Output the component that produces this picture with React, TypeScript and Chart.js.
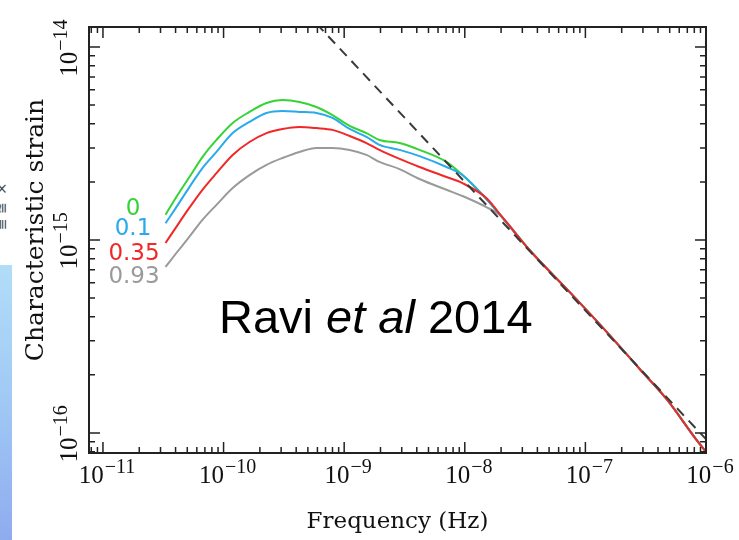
import React, { useEffect, useRef } from "react";
import { Chart, registerables } from "chart.js";

Chart.register(...registerables);

// Frequency grid (Hz)
const frequencyHz = [
  3.3e-11, 4.06e-11, 5.21e-11, 6.68e-11, 8.73e-11, 1.19e-10, 1.64e-10, 2.27e-10,
  3.08e-10, 4.26e-10, 5.89e-10, 8.0e-10, 1.11e-9, 1.53e-9, 1.96e-9, 2.88e-9,
  4.21e-9, 7.05e-9, 9.57e-9, 1.51e-8, 1.94e-8, 3.44e-8, 7.38e-8, 1.5e-7,
  2.81e-7, 4.7e-7, 8.34e-7, 1.0e-6,
];

// Characteristic strain for each eccentricity
const strainE0 = [
  1.35e-15, 1.67e-15, 2.12e-15, 2.69e-15, 3.3e-15, 4.04e-15, 4.61e-15, 5.13e-15,
  5.31e-15, 5.19e-15, 4.89e-15, 4.44e-15, 3.9e-15, 3.58e-15, 3.3e-15, 3.18e-15,
  2.93e-15, 2.54e-15, 2.17e-15, 1.63e-15, 1.36e-15, 8.87e-16, 5.38e-16, 3.34e-16,
  2.15e-16, 1.5e-16, 9.2e-17, 7.97e-17,
];
const strainE01 = [
  1.22e-15, 1.48e-15, 1.88e-15, 2.36e-15, 2.86e-15, 3.58e-15, 4.09e-15, 4.55e-15,
  4.66e-15, 4.61e-15, 4.55e-15, 4.29e-15, 3.76e-15, 3.42e-15, 3.11e-15, 2.93e-15,
  2.72e-15, 2.39e-15, 2.17e-15, 1.63e-15, 1.36e-15, 8.87e-16, 5.38e-16, 3.34e-16,
  2.15e-16, 1.5e-16, 9.2e-17, 7.97e-17,
];
const strainE035 = [
  9.65e-16, 1.17e-15, 1.47e-15, 1.82e-15, 2.22e-15, 2.76e-15, 3.22e-15, 3.58e-15,
  3.76e-15, 3.85e-15, 3.8e-15, 3.72e-15, 3.46e-15, 3.18e-15, 2.93e-15, 2.63e-15,
  2.39e-15, 2.12e-15, 1.97e-15, 1.65e-15, 1.37e-15, 8.87e-16, 5.38e-16, 3.34e-16,
  2.15e-16, 1.5e-16, 9.2e-17, 7.97e-17,
];
const strainE093 = [
  7.25e-16, 8.56e-16, 1.04e-15, 1.27e-15, 1.52e-15, 1.86e-15, 2.17e-15, 2.45e-15,
  2.66e-15, 2.86e-15, 3.0e-15, 3.0e-15, 2.93e-15, 2.76e-15, 2.54e-15, 2.33e-15,
  2.07e-15, 1.82e-15, 1.69e-15, 1.48e-15, 1.35e-15, 8.87e-16, 5.38e-16, 3.34e-16,
  2.15e-16, 1.5e-16, 9.2e-17, 7.97e-17,
];

// f^(-2/3) power-law reference (dashed)
const dashFreq = [1e-10, 1e-6];
const dashStrain = [4.31e-14, 9.28e-17];

const eccLabels = ["0", "0.1", "0.35", "0.93"];
const eccColors = ["#35d335", "#29aaea", "#f02828", "#9a9a9a"];

const xMin = 7.66e-12;
const xMax = 1e-6;
const yMin = 7.87e-17;
const yMax = 1.27e-14;

const xDecades = [-12, -11, -10, -9, -8, -7, -6];
const yDecades = [-17, -16, -15, -14];

function buildLogTicks(decades: number[], min: number, max: number) {
  const out: { value: number; major: boolean }[] = [];
  for (const d of decades) {
    for (let m = 1; m <= 9; m++) {
      const v = Number((m * Math.pow(10, d)).toPrecision(6));
      if (v >= min * 0.9999 && v <= max * 1.0001) out.push({ value: v, major: m === 1 });
    }
  }
  return out;
}

function drawPower(ctx: CanvasRenderingContext2D, exp: number, x: number, y: number, rotated: boolean) {
  const base = "10";
  const ex = "\u2212" + Math.abs(exp);
  const bigFont = "25px 'Liberation Serif', serif";
  const smallFont = "20px 'Liberation Serif', serif";
  ctx.font = bigFont;
  const wb = ctx.measureText(base).width;
  ctx.font = smallFont;
  const we = ctx.measureText(ex).width;
  const gap = 1;
  const w = wb + gap + we;
  ctx.save();
  ctx.translate(x, y);
  if (rotated) ctx.rotate(-Math.PI / 2);
  ctx.textAlign = "left";
  ctx.textBaseline = "alphabetic";
  ctx.fillStyle = "#111";
  ctx.font = bigFont;
  ctx.fillText(base, -w / 2, 0);
  ctx.font = smallFont;
  ctx.fillText(ex, -w / 2 + wb + gap, -10);
  ctx.restore();
}

const framePlugin = {
  id: "frame",
  afterDatasetsDraw(chart: any) {
    const ctx: CanvasRenderingContext2D = chart.ctx;
    const { left, right, top, bottom } = chart.chartArea;
    const xs = chart.scales.x;
    const ys = chart.scales.y;
    ctx.save();
    ctx.strokeStyle = "#222";
    ctx.lineWidth = 2;
    ctx.strokeRect(left, top, right - left, bottom - top);
    ctx.lineWidth = 1.5;
    ctx.beginPath();
    for (const t of xs.ticks) {
      const px = xs.getPixelForValue(t.value);
      if (px < left - 0.5 || px > right + 0.5) continue;
      const len = t.major ? 11 : 6;
      ctx.moveTo(px, bottom);
      ctx.lineTo(px, bottom - len);
      ctx.moveTo(px, top);
      ctx.lineTo(px, top + len);
    }
    for (const t of ys.ticks) {
      const py = ys.getPixelForValue(t.value);
      if (py < top - 0.5 || py > bottom + 0.5) continue;
      const len = t.major ? 11 : 6;
      ctx.moveTo(left, py);
      ctx.lineTo(left + len, py);
      ctx.moveTo(right, py);
      ctx.lineTo(right - len, py);
    }
    ctx.stroke();

    // tick labels
    for (const t of xs.ticks) {
      if (!t.major) continue;
      const px = xs.getPixelForValue(t.value);
      if (px < left - 0.5 || px > right + 0.5) continue;
      drawPower(ctx, Math.round(Math.log10(t.value)), px + 4, 483, false);
    }
    for (const t of ys.ticks) {
      if (!t.major) continue;
      const py = ys.getPixelForValue(t.value);
      if (py < top - 0.5 || py > bottom + 0.5) continue;
      drawPower(ctx, Math.round(Math.log10(t.value)), 77, py + 1, true);
    }

    // axis titles
    ctx.fillStyle = "#111";
    ctx.textAlign = "center";
    ctx.textBaseline = "alphabetic";
    ctx.font = "23px 'DejaVu Serif', serif";
    ctx.fillText("Frequency (Hz)", (left + right) / 2, 528);
    ctx.save();
    ctx.translate(43, 230);
    ctx.rotate(-Math.PI / 2);
    ctx.font = "25px 'DejaVu Serif', serif";
    ctx.fillText("Characteristic strain", 0, 0);
    ctx.restore();

    // eccentricity labels
    const labelPos = [
      [left + 44, 215],
      [left + 44, 235],
      [left + 45, 260],
      [left + 45, 283],
    ];
    ctx.font = "23px 'DejaVu Sans', sans-serif";
    ctx.textAlign = "center";
    eccLabels.forEach((lab, i) => {
      ctx.fillStyle = eccColors[i];
      ctx.fillText(lab, labelPos[i][0], labelPos[i][1]);
    });

    // citation
    ctx.textAlign = "left";
    ctx.fillStyle = "#000";
    let cx = 219;
    const cy = 333;
    ctx.font = "47px 'Liberation Sans', Arial, sans-serif";
    ctx.fillText("Ravi ", cx, cy);
    cx += ctx.measureText("Ravi ").width;
    ctx.font = "italic 47px 'Liberation Sans', Arial, sans-serif";
    ctx.fillText("et al", cx, cy);
    cx += ctx.measureText("et al").width;
    ctx.font = "47px 'Liberation Sans', Arial, sans-serif";
    ctx.fillText(" 2014", cx, cy);
    ctx.restore();
  },
};

function toPoints(xs: number[], ys: number[]) {
  return xs.map((x, i) => ({ x, y: ys[i] }));
}

export default function App() {
  const canvasRef = useRef<HTMLCanvasElement | null>(null);

  useEffect(() => {
    if (!canvasRef.current) return;
    const series = [strainE035, strainE01, strainE0, strainE093];
    const colorIdx = [2, 1, 0, 3];
    const chart = new Chart(canvasRef.current, {
      type: "line",
      data: {
        datasets: [
          {
            label: "f^-2/3",
            data: toPoints(dashFreq, dashStrain),
            borderColor: "#3a3a3a",
            borderWidth: 2,
            borderDash: [10, 7],
            pointRadius: 0,
            fill: false,
          },
          ...series.map((s, k) => ({
            label: "e = " + eccLabels[colorIdx[k]],
            data: toPoints(frequencyHz, s),
            borderColor: eccColors[colorIdx[k]],
            borderWidth: 2,
            pointRadius: 0,
            cubicInterpolationMode: "monotone",
            fill: false,
          })),
        ],
      },
      options: {
        animation: false,
        responsive: false,
        devicePixelRatio: 1,
        layout: { padding: { left: 0, top: 27, right: 33, bottom: 0 } },
        plugins: { legend: { display: false }, tooltip: { enabled: false } },
        events: [],
        scales: {
          x: {
            type: "logarithmic",
            min: xMin,
            max: xMax,
            grid: { display: false },
            border: { display: false },
            ticks: { display: false, autoSkip: false },
            afterBuildTicks: (scale: any) => {
              scale.ticks = buildLogTicks(xDecades, xMin, xMax);
            },
            afterFit: (scale: any) => {
              scale.height = 87;
            },
          },
          y: {
            type: "logarithmic",
            min: yMin,
            max: yMax,
            grid: { display: false },
            border: { display: false },
            ticks: { display: false, autoSkip: false },
            afterBuildTicks: (scale: any) => {
              scale.ticks = buildLogTicks(yDecades, yMin, yMax);
            },
            afterFit: (scale: any) => {
              scale.width = 89;
            },
          },
        },
      },
      plugins: [framePlugin],
    } as any);
    return () => chart.destroy();
  }, []);

  return (
    <div style={{ position: "absolute", left: 0, top: 0, width: 739, height: 540, background: "#fff", overflow: "hidden" }}>
      <div
        style={{
          position: "absolute",
          left: 0,
          top: 265,
          width: 12,
          height: 275,
          background: "linear-gradient(175deg, #b2ddf8 0%, #a2cbf5 45%, #8fabef 100%)",
        }}
      />
      <div
        style={{
          position: "absolute",
          left: -6,
          top: 150,
          width: 16,
          height: 80,
          overflow: "hidden",
          color: "#444",
          fontFamily: "'DejaVu Serif', serif",
          fontSize: 14,
          writingMode: "vertical-rl",
          transform: "rotate(180deg)",
        }}
      >
        ≡ ≅ ×
      </div>
      <canvas ref={canvasRef} width={739} height={540} style={{ position: "absolute", left: 0, top: 0, display: "block" }} />
    </div>
  );
}
